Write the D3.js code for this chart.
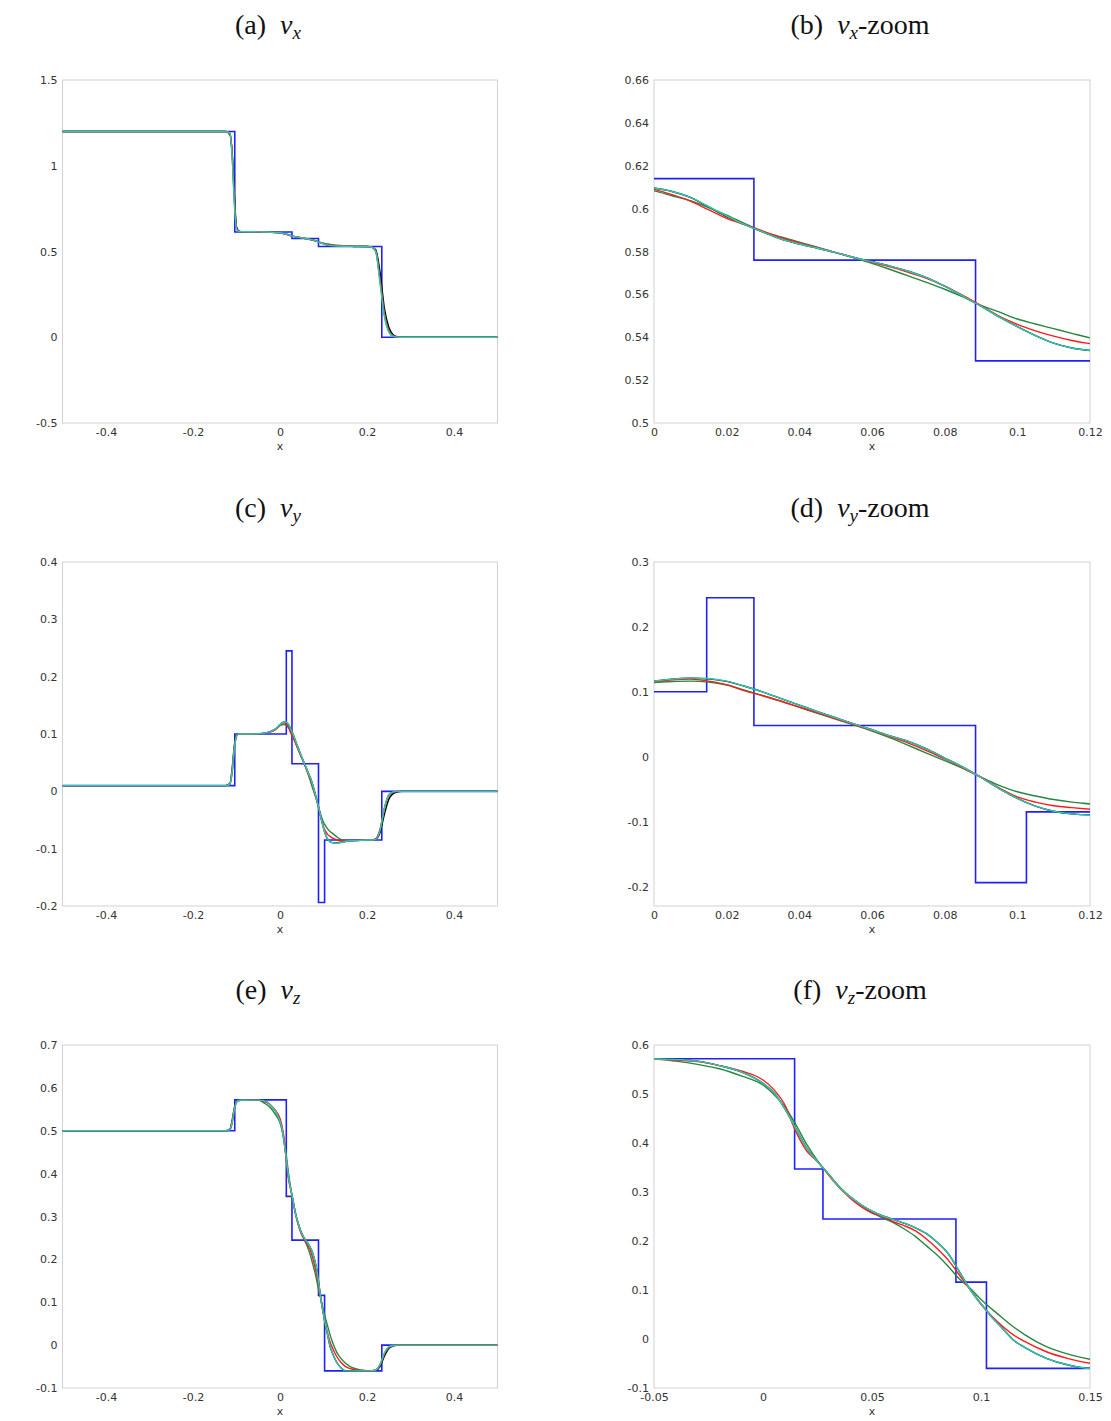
<!DOCTYPE html>
<html><head><meta charset="utf-8">
<script src="https://cdn.jsdelivr.net/npm/d3@7"></script>
<style>body{margin:0;background:#fff} svg{display:block}</style>
</head><body>
<svg id="chart" width="1111" height="1421"></svg>
<script>
// shared sample positions of the numerical solutions
const gridX = [
  -0.5, -0.125, -0.115, -0.11, -0.105, -0.1, -0.095, -0.09, -0.07,
  -0.05, -0.04, -0.03, -0.02, -0.01, 0,
  0.005, 0.01, 0.015, 0.02, 0.025, 0.03, 0.035, 0.04, 0.045, 0.05,
  0.055, 0.06, 0.065, 0.07, 0.075, 0.08, 0.085, 0.09, 0.095, 0.1,
  0.105, 0.11, 0.115, 0.12, 0.13, 0.14, 0.15, 0.17, 0.2,
  0.21, 0.22, 0.23, 0.24, 0.25, 0.26, 0.27, 0.28, 0.3, 0.5];

// v_x
const vxBlack = [
  1.2, 1.2, 1.18, 1.08, 0.84, 0.645, 0.62, 0.616, 0.615,
  0.6145, 0.614, 0.6135, 0.6125, 0.611, 0.6096,
  0.608, 0.6052, 0.6008, 0.5963, 0.5925, 0.589, 0.5858, 0.5835, 0.5815, 0.5795,
  0.5772, 0.5752, 0.5732, 0.5708, 0.5678, 0.5638, 0.5592, 0.5545, 0.5495, 0.545,
  0.5408, 0.5373, 0.535, 0.5338, 0.5322, 0.531, 0.5302, 0.5295, 0.529,
  0.527, 0.51, 0.38, 0.17, 0.06, 0.015, 0.003, 0.0005, 0, 0];
const vxRed = [
  1.2, 1.2, 1.19, 1.06, 0.8, 0.635, 0.618, 0.616, 0.615,
  0.6145, 0.614, 0.6133, 0.6122, 0.6108, 0.609,
  0.6065, 0.6035, 0.5995, 0.5955, 0.5925, 0.5895, 0.5865, 0.584, 0.5818, 0.5795,
  0.5772, 0.575, 0.5728, 0.5703, 0.5675, 0.5638, 0.5595, 0.5548, 0.5498, 0.546,
  0.543, 0.5405, 0.5385, 0.537, 0.5345, 0.5325, 0.531, 0.53, 0.529,
  0.526, 0.5, 0.33, 0.13, 0.035, 0.006, 0.001, 0, 0, 0];
const vxGreen = [
  1.2, 1.2, 1.185, 1.07, 0.82, 0.64, 0.619, 0.616, 0.615,
  0.6145, 0.6138, 0.613, 0.612, 0.6103, 0.6083,
  0.606, 0.6037, 0.6005, 0.597, 0.593, 0.5893, 0.5868, 0.5844, 0.582, 0.5795,
  0.5771, 0.5745, 0.5716, 0.5686, 0.5656, 0.5624, 0.5588, 0.5549, 0.5518, 0.5485,
  0.5462, 0.544, 0.5418, 0.5397, 0.537, 0.535, 0.533, 0.531, 0.529,
  0.526, 0.502, 0.34, 0.14, 0.04, 0.008, 0.0015, 0, 0, 0];
const vxTeal = [
  1.2, 1.2, 1.19, 1.05, 0.78, 0.63, 0.618, 0.616, 0.615,
  0.6145, 0.614, 0.6135, 0.6125, 0.611, 0.6096,
  0.608, 0.6052, 0.601, 0.5965, 0.5925, 0.589, 0.5858, 0.5835, 0.5815, 0.5795,
  0.5772, 0.5752, 0.5732, 0.5708, 0.5678, 0.5638, 0.5592, 0.5545, 0.5495, 0.545,
  0.5408, 0.5373, 0.535, 0.5338, 0.5322, 0.531, 0.5302, 0.5295, 0.529,
  0.526, 0.5, 0.31, 0.12, 0.03, 0.005, 0.001, 0, 0, 0];

// v_y
const vyBlack = [
  0.01, 0.01, 0.014, 0.04, 0.08, 0.098, 0.1, 0.1, 0.1,
  0.1005, 0.101, 0.1025, 0.105, 0.109, 0.1164,
  0.1195, 0.121, 0.12, 0.116, 0.1085, 0.0995, 0.0895, 0.0795, 0.0695, 0.06,
  0.0505, 0.0415, 0.032, 0.0235, 0.012, -0.002, -0.016, -0.032, -0.049, -0.064,
  -0.076, -0.084, -0.088, -0.0895, -0.09, -0.089, -0.0875, -0.086, -0.085,
  -0.085, -0.084, -0.072, -0.04, -0.014, -0.004, -0.001, 0, 0, 0];
const vyRed = [
  0.01, 0.01, 0.013, 0.036, 0.076, 0.097, 0.1, 0.1, 0.1,
  0.1005, 0.101, 0.102, 0.104, 0.108, 0.1154,
  0.1185, 0.1195, 0.1165, 0.111, 0.1015, 0.094, 0.0855, 0.0765, 0.0675, 0.0585,
  0.0495, 0.0405, 0.031, 0.021, 0.0095, -0.0035, -0.017, -0.0315, -0.048, -0.062,
  -0.07, -0.0755, -0.0785, -0.081, -0.0845, -0.0865, -0.0865, -0.086, -0.085,
  -0.085, -0.083, -0.066, -0.029, -0.006, -0.001, 0, 0, 0, 0];
const vyGreen = [
  0.01, 0.01, 0.012, 0.032, 0.072, 0.096, 0.1, 0.1, 0.1,
  0.1005, 0.101, 0.102, 0.104, 0.108, 0.1144,
  0.1158, 0.1164, 0.115, 0.1105, 0.1025, 0.094, 0.0855, 0.076, 0.067, 0.058,
  0.049, 0.0395, 0.029, 0.0175, 0.0055, -0.006, -0.018, -0.0315, -0.044, -0.054,
  -0.0605, -0.066, -0.07, -0.0728, -0.079, -0.084, -0.086, -0.086, -0.085,
  -0.085, -0.083, -0.067, -0.031, -0.007, -0.0015, 0, 0, 0, 0];
const vyTeal = [
  0.01, 0.01, 0.013, 0.035, 0.075, 0.097, 0.1, 0.1, 0.1,
  0.1005, 0.101, 0.1025, 0.105, 0.109, 0.1164,
  0.1195, 0.1213, 0.1205, 0.1165, 0.1085, 0.0995, 0.0895, 0.0795, 0.0695, 0.06,
  0.0505, 0.0415, 0.032, 0.0235, 0.012, -0.002, -0.016, -0.032, -0.049, -0.064,
  -0.076, -0.084, -0.088, -0.0897, -0.0905, -0.089, -0.0875, -0.086, -0.085,
  -0.085, -0.084, -0.068, -0.03, -0.006, -0.001, 0, 0, 0, 0];

// v_z
const vzBlack = [
  0.5, 0.5, 0.504, 0.525, 0.553, 0.568, 0.5708, 0.5712, 0.5714,
  0.5714, 0.5705, 0.567, 0.558, 0.545, 0.5217,
  0.503, 0.47, 0.43, 0.39, 0.362, 0.337, 0.3095, 0.29, 0.274, 0.261,
  0.251, 0.2435, 0.236, 0.227, 0.215, 0.197, 0.174, 0.138, 0.101, 0.072,
  0.0444, 0.021, -0.0025, -0.017, -0.0394, -0.053, -0.06, -0.0605, -0.06,
  -0.06, -0.059, -0.05, -0.026, -0.008, -0.002, -0.0005, 0, 0, 0];
const vzRed = [
  0.5, 0.5, 0.503, 0.52, 0.55, 0.567, 0.5705, 0.5712, 0.5714,
  0.5714, 0.569, 0.566, 0.558, 0.547, 0.5285,
  0.509, 0.478, 0.424, 0.384, 0.362, 0.335, 0.309, 0.2875, 0.27, 0.257,
  0.2495, 0.239, 0.231, 0.2205, 0.204, 0.184, 0.161, 0.131, 0.101, 0.071,
  0.0465, 0.0255, 0.008, -0.005, -0.026, -0.04, -0.0496, -0.057, -0.06,
  -0.06, -0.058, -0.046, -0.02, -0.005, -0.001, 0, 0, 0, 0];
const vzGreen = [
  0.5, 0.5, 0.502, 0.518, 0.548, 0.566, 0.5705, 0.5712, 0.5714,
  0.5714, 0.567, 0.5605, 0.5515, 0.537, 0.5183,
  0.499, 0.474, 0.438, 0.3975, 0.364, 0.337, 0.3115, 0.29, 0.2735, 0.2585,
  0.247, 0.237, 0.224, 0.209, 0.19, 0.171, 0.148, 0.1228, 0.1035, 0.0808,
  0.061, 0.0425, 0.0245, 0.009, -0.0157, -0.031, -0.0415, -0.054, -0.0595,
  -0.06, -0.058, -0.047, -0.021, -0.006, -0.0015, 0, 0, 0, 0];
const vzTeal = [
  0.5, 0.5, 0.503, 0.52, 0.55, 0.567, 0.5705, 0.5712, 0.5714,
  0.5714, 0.5705, 0.567, 0.558, 0.545, 0.5217,
  0.503, 0.47, 0.43, 0.39, 0.362, 0.337, 0.3095, 0.29, 0.274, 0.261,
  0.251, 0.2435, 0.236, 0.227, 0.215, 0.197, 0.174, 0.138, 0.101, 0.072,
  0.0444, 0.021, -0.0025, -0.017, -0.0394, -0.053, -0.06, -0.0605, -0.06,
  -0.06, -0.058, -0.045, -0.018, -0.004, -0.001, 0, 0, 0, 0];

// exact (piecewise constant) solution
const exactX  = [-0.5, -0.104, 0.0145, 0.0275, 0.0885, 0.1025, 0.234, 0.5];
const vxExact = [1.2, 0.614, 0.614, 0.576, 0.529, 0.529, 0, 0];
const vyExact = [0.01, 0.1, 0.245, 0.048, -0.194, -0.085, 0, 0];
const vzExact = [0.5, 0.572, 0.347, 0.245, 0.116, -0.06, 0, 0];

// tick labels
const fullXTicks = [-0.4, -0.2, 0, 0.2, 0.4];
const zoomXTicks = [0, 0.02, 0.04, 0.06, 0.08, 0.1, 0.12];
const vzZoomXTicks = [-0.05, 0, 0.05, 0.1, 0.15];
const vxYTicks = [-0.5, 0, 0.5, 1, 1.5];
const vxZoomYTicks = [0.5, 0.52, 0.54, 0.56, 0.58, 0.6, 0.62, 0.64, 0.66];
const vyYTicks = [-0.2, -0.1, 0, 0.1, 0.2, 0.3, 0.4];
const vyZoomYTicks = [-0.2, -0.1, 0, 0.1, 0.2, 0.3];
const vzYTicks = [-0.1, 0, 0.1, 0.2, 0.3, 0.4, 0.5, 0.6, 0.7];
const vzZoomYTicks = [-0.1, 0, 0.1, 0.2, 0.3, 0.4, 0.5, 0.6];

const panelLabels = ["(a)", "(b)", "(c)", "(d)", "(e)", "(f)"];
const panelVars = ["x", "x", "y", "y", "z", "z"];
const panelSuffix = ["", "-zoom", "", "-zoom", "", "-zoom"];

const colors = {exact: "#2020ff", black: "#000000", green: "#24883e", red: "#ff1a1a", teal: "#2ccab4"};

const sets = {
  x: {black: vxBlack, red: vxRed, green: vxGreen, teal: vxTeal, exact: vxExact},
  y: {black: vyBlack, red: vyRed, green: vyGreen, teal: vyTeal, exact: vyExact},
  z: {black: vzBlack, red: vzRed, green: vzGreen, teal: vzTeal, exact: vzExact}
};

const colL = {x0: 62.5, x1: 497.5, tx: 268};
const colR = {x0: 654, x1: 1090, tx: 860};
const rows = [{y0: 80, y1: 423, ty: 34}, {y0: 562, y1: 906, ty: 517}, {y0: 1045, y1: 1388, ty: 999}];

const panels = [
  {col: colL, row: rows[0], xd: [-0.5, 0.5], yd: [-0.5, 1.5], xt: fullXTicks, yt: vxYTicks},
  {col: colR, row: rows[0], xd: [0, 0.12], yd: [0.5, 0.66], xt: zoomXTicks, yt: vxZoomYTicks},
  {col: colL, row: rows[1], xd: [-0.5, 0.5], yd: [-0.2, 0.4], xt: fullXTicks, yt: vyYTicks},
  {col: colR, row: rows[1], xd: [0, 0.12], yd: [-0.23, 0.3], xt: zoomXTicks, yt: vyZoomYTicks},
  {col: colL, row: rows[2], xd: [-0.5, 0.5], yd: [-0.1, 0.7], xt: fullXTicks, yt: vzYTicks},
  {col: colR, row: rows[2], xd: [-0.05, 0.15], yd: [-0.1, 0.6], xt: vzZoomXTicks, yt: vzZoomYTicks}
];

const svg = d3.select("#chart");
const fmt = d => String(+(+d).toFixed(3));

panels.forEach((p, i) => {
  const x = d3.scaleLinear().domain(p.xd).range([p.col.x0, p.col.x1]);
  const y = d3.scaleLinear().domain(p.yd).range([p.row.y1, p.row.y0]);
  const g = svg.append("g");
  const cid = "clip" + i;
  svg.append("clipPath").attr("id", cid).append("rect")
    .attr("x", p.col.x0).attr("y", p.row.y0)
    .attr("width", p.col.x1 - p.col.x0).attr("height", p.row.y1 - p.row.y0);

  // frame
  g.append("rect").attr("x", p.col.x0).attr("y", p.row.y0)
    .attr("width", p.col.x1 - p.col.x0).attr("height", p.row.y1 - p.row.y0)
    .attr("fill", "none").attr("stroke", "#d2d2d2").attr("stroke-width", 1);

  // axes
  const ax = g.append("g").attr("transform", `translate(0,${p.row.y1})`)
    .call(d3.axisBottom(x).tickValues(p.xt).tickFormat(fmt).tickSize(0).tickPadding(5));
  const ay = g.append("g").attr("transform", `translate(${p.col.x0},0)`)
    .call(d3.axisLeft(y).tickValues(p.yt).tickFormat(fmt).tickSize(0).tickPadding(5));
  [ax, ay].forEach(a => {
    a.select(".domain").remove();
    a.selectAll("text").attr("font-family", "DejaVu Sans, sans-serif")
      .attr("font-size", 11).attr("fill", "#333");
  });
  g.append("text").attr("x", (p.col.x0 + p.col.x1) / 2).attr("y", p.row.y1 + 27)
    .attr("text-anchor", "middle").attr("font-family", "DejaVu Sans, sans-serif")
    .attr("font-size", 11).attr("fill", "#333").text("x");

  // data
  const s = sets[panelVars[i]];
  const plot = g.append("g").attr("clip-path", `url(#${cid})`);
  const exactPts = exactX.map((xv, k) => [xv, s.exact[k]]);
  plot.append("path").datum(exactPts)
    .attr("d", d3.line().x(d => x(d[0])).y(d => y(d[1])).curve(d3.curveStepAfter))
    .attr("fill", "none").attr("stroke", colors.exact).attr("stroke-width", 1.6);
  const smooth = d3.line().x(d => x(d[0])).y(d => y(d[1])).curve(d3.curveMonotoneX);
  ["black", "green", "red", "teal"].forEach(k => {
    const pts = gridX.map((xv, j) => [xv, s[k][j]]);
    plot.append("path").datum(pts).attr("d", smooth)
      .attr("fill", "none").attr("stroke", colors[k]).attr("stroke-width", 1.4);
  });

  // title
  const t = svg.append("text").attr("x", p.col.tx).attr("y", p.row.ty)
    .attr("text-anchor", "middle").attr("font-family", "Liberation Serif, serif")
    .attr("font-size", 28).attr("fill", "#111");
  t.append("tspan").text(panelLabels[i] + "\u00a0 ");
  t.append("tspan").attr("font-style", "italic").text("v");
  t.append("tspan").attr("font-style", "italic").attr("font-size", 19).attr("dy", 5).text(panelVars[i]);
  if (panelSuffix[i]) t.append("tspan").attr("dy", -5).text(panelSuffix[i]);
});
</script>
</body></html>
